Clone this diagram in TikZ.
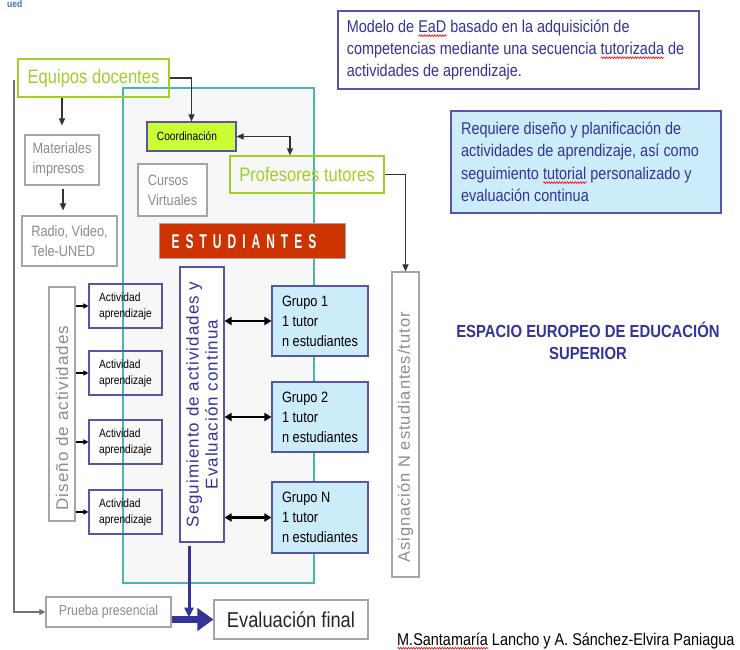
\documentclass[tikz,border=0pt]{standalone}
\usepackage{fontspec}
\setmainfont[FakeStretch=0.85]{Liberation Sans}
\newfontfamily\rotf[LetterSpace=6]{Liberation Sans}
\newfontfamily\estf[FakeStretch=0.6,LetterSpace=30]{Liberation Sans}
\usetikzlibrary{arrows.meta,calc,decorations.pathmorphing}
\definecolor{lime}{RGB}{160,208,40}
\definecolor{limefill}{RGB}{204,255,51}
\definecolor{navy}{RGB}{51,51,153}
\definecolor{bordblue}{RGB}{85,85,170}
\definecolor{greyb}{RGB}{165,165,165}
\definecolor{greyt}{RGB}{140,140,140}
\definecolor{tealb}{RGB}{72,182,182}
\definecolor{lblue}{RGB}{204,236,250}
\definecolor{estred}{RGB}{204,51,0}
\definecolor{panel}{RGB}{247,247,247}
\definecolor{logoblue}{RGB}{70,110,200}
\newcommand\fsz[2]{\fontsize{#1}{#2}\selectfont}
\newsavebox\wavebox
\newlength\wavelen
\newcommand\redwave[1]{\sbox\wavebox{#1}\setlength\wavelen{\wd\wavebox}\rlap{\tikz[baseline=0pt,x=1pt,y=1pt]{\path (0,0); \draw[red, line width=0.6pt, decorate, decoration={zigzag, amplitude=0.9pt, segment length=2.6pt}] (0,-3.2) -- (\wavelen,-3.2);}}\usebox\wavebox}
\begin{document}
\begin{tikzpicture}[x=1pt,y=-1pt,
  gbox/.style={draw=greyb, line width=1.1pt, text=greyt, inner sep=0pt, align=left},
  limebox/.style={draw=lime, line width=1.3pt, text=lime, inner sep=0pt, font=\fsz{19.5}{22}},
  bluebox/.style={draw=bordblue, line width=1.1pt, inner sep=0pt, align=left},
  conn/.style={draw=black!80, line width=1.1pt, -{Triangle[length=7pt,width=6pt]}},
  dconn/.style={draw=black!80, line width=1.1pt, {Triangle[length=7pt,width=6pt]}-{Triangle[length=7pt,width=6pt]}},
  smallarr/.style={draw=black, line width=1.2pt, -{Triangle[length=5pt,width=5pt]}},
  dblarr/.style={draw=black, line width=2.6pt, {Triangle[length=7pt,width=8pt]}-{Triangle[length=7pt,width=8pt]}},
  bluev/.style={draw=navy, line width=3pt, -{Triangle[length=10pt,width=9pt]}},
  blueh/.style={draw=navy, line width=7pt, -{Triangle[length=16pt,width=22pt]}},
  greyline/.style={draw=black!55, line width=1.1pt, -{Triangle[length=6pt,width=6pt]}}
]
\useasboundingbox (0,0) rectangle (740,650);
\fill[white] (0,0) rectangle (740,650);

% logo fragment
\node[text=logoblue, font=\bfseries\fsz{10}{10}, anchor=north west, inner sep=0pt] (logo) at (7,0.5) {ued};

% central panel
\node[draw=tealb, fill=panel, line width=1.3pt, minimum width=191pt, minimum height=495pt, inner sep=0pt] (panel) at (218.5,335.5) {};

% top right boxes
\node[bluebox, fill=white, text=navy, minimum width=361pt, minimum height=78pt, font=\fsz{17}{22}] (modelo) at (518.5,50)
  {Modelo de \redwave{EaD} basado en la adquisición de\\competencias mediante una secuencia \redwave{tutorizada} de\kern6pt\\actividades de aprendizaje.};
\node[bluebox, fill=lblue, text=navy, minimum width=270pt, minimum height=102pt, font=\fsz{17}{22.5}] (req) at (586,162)
  {Requiere diseño y planificación de\\actividades de aprendizaje, así como\kern12pt\\seguimiento \redwave{tutorial} personalizado y\\evaluación continua};

% left column
\node[limebox, minimum width=151pt, minimum height=38pt] (eq) at (93.5,78) {Equipos docentes};
\node[gbox, fill=white, minimum width=74pt, minimum height=50pt, font=\fsz{15}{20}] (mat) at (62,160) {Materiales\\impresos};
\node[gbox, fill=white, minimum width=95pt, minimum height=50pt, font=\fsz{15}{20}] (rad) at (69.5,241) {Radio, Video,\\Tele-UNED};

% inside panel
\node[bluebox, fill=limefill, minimum width=89pt, minimum height=29pt, font=\fsz{12}{14}] (coord) at (191.5,136.5) {Coordinación\kern9pt};
\node[gbox, fill=white, minimum width=69pt, minimum height=52pt, font=\fsz{15}{20}] (cur) at (172.5,190) {Cursos\\Virtuales};
\node[limebox, minimum width=154pt, minimum height=37pt] (prof) at (307,174.5) {Profesores tutores};
\node[fill=estred, draw=greyb, line width=1pt, minimum width=186pt, minimum height=35pt, inner sep=0pt, text=white, font=\estf\bfseries\fsz{20}{20}] (est) at (252,241.5) {ESTUDIANTES\kern16pt};

% seguimiento
\node[bluebox, fill=white, minimum width=44pt, minimum height=275pt] (seg) at (202,404.5) {};
\node[rotate=90, text=navy, align=center, inner sep=0pt, font=\rotf\fsz{17}{19}] (segtxt) at (seg.center) {Seguimiento de actividades y\\Evaluación continua};

% diseño
\node[gbox, minimum width=26pt, minimum height=234pt] (dis) at (62,404) {};
\node[rotate=90, text=greyt, inner sep=0pt, font=\rotf\fsz{17}{20}] (distxt) at (62,418) {Diseño de actividades};

% actividades
\node[bluebox, minimum width=73pt, minimum height=44pt, font=\fsz{12}{16}] (a1) at (125.5,306) {Actividad\\aprendizaje};
\node[bluebox, minimum width=73pt, minimum height=44pt, font=\fsz{12}{16}] (a2) at (125.5,373) {Actividad\\aprendizaje};
\node[bluebox, minimum width=73pt, minimum height=44pt, font=\fsz{12}{16}] (a3) at (125.5,442) {Actividad\\aprendizaje};
\node[bluebox, minimum width=73pt, minimum height=44pt, font=\fsz{12}{16}] (a4) at (125.5,512) {Actividad\\aprendizaje};

% grupos
\node[bluebox, fill=lblue, minimum width=96pt, minimum height=70pt, font=\fsz{15}{20}] (g1) at (320,321) {Grupo 1\\1 tutor\\n estudiantes};
\node[bluebox, fill=lblue, minimum width=96pt, minimum height=70pt, font=\fsz{15}{20}] (g2) at (320,417) {Grupo 2\\1 tutor\\n estudiantes};
\node[bluebox, fill=lblue, minimum width=96pt, minimum height=71pt, font=\fsz{15}{20}] (g3) at (320,517.5) {Grupo N\\1 tutor\\n estudiantes};

% asignación
\node[gbox, fill=white, minimum width=27pt, minimum height=305pt] (asig) at (405.5,424.5) {};
\node[rotate=90, text=greyt, inner sep=0pt, font=\rotf\fsz{16.5}{20}] (asigtxt) at (405.5,437.5) {Asignación N estudiantes/tutor};

% bottom
\node[gbox, fill=white, minimum width=125pt, minimum height=30pt, font=\fsz{14.5}{17}] (pru) at (108.5,612) {Prueba presencial};
\node[gbox, fill=white, text=black!85, minimum width=154pt, minimum height=39pt, font=\fsz{21.5}{24}] (ev) at (291,619.5) {Evaluación final};

% texts
\node[text=navy, font=\bfseries\fsz{17.5}{22}, align=center] (eees) at (588,341) {ESPACIO EUROPEO DE EDUCACIÓN\\SUPERIOR};
\node[anchor=base west, inner sep=0pt, font=\fsz{17}{20}] (auth) at (397,645) {\redwave{M.Santamaría} Lancho y A. Sánchez-Elvira Paniagua};

% connectors
\coordinate (ltop) at (14,80);
\draw[greyline] (ltop) |- (pru.west);
\draw[conn] (eq.east) -| (coord.north);
\draw[dconn] (coord.east) -| ([xshift=-17pt]prof.north);
\draw[conn] (prof.east) -| (asig.north);
\draw[conn, shorten >=9pt] (eq.south -| mat.north) -- (mat.north);
\draw[conn, shorten >=5pt, shorten <=3pt] ([xshift=1pt]mat.south) -- ([xshift=1pt]mat.south |- rad.north);
\foreach \a in {a1,a2,a3,a4}{
  \draw[smallarr] (dis.east |- \a.west) -- (\a.west);
}
\foreach \g in {g1,g2,g3}{
  \draw[dblarr] (seg.east |- \g.west) -- (\g.west);
}
\draw[bluev, shorten <=3pt, shorten >=2pt] ([xshift=-13pt]seg.south) -- ([xshift=-13pt]seg.south |- ev.west);
\draw[blueh] (pru.east |- ev.west) -- (ev.west);
\end{tikzpicture}
\end{document}
